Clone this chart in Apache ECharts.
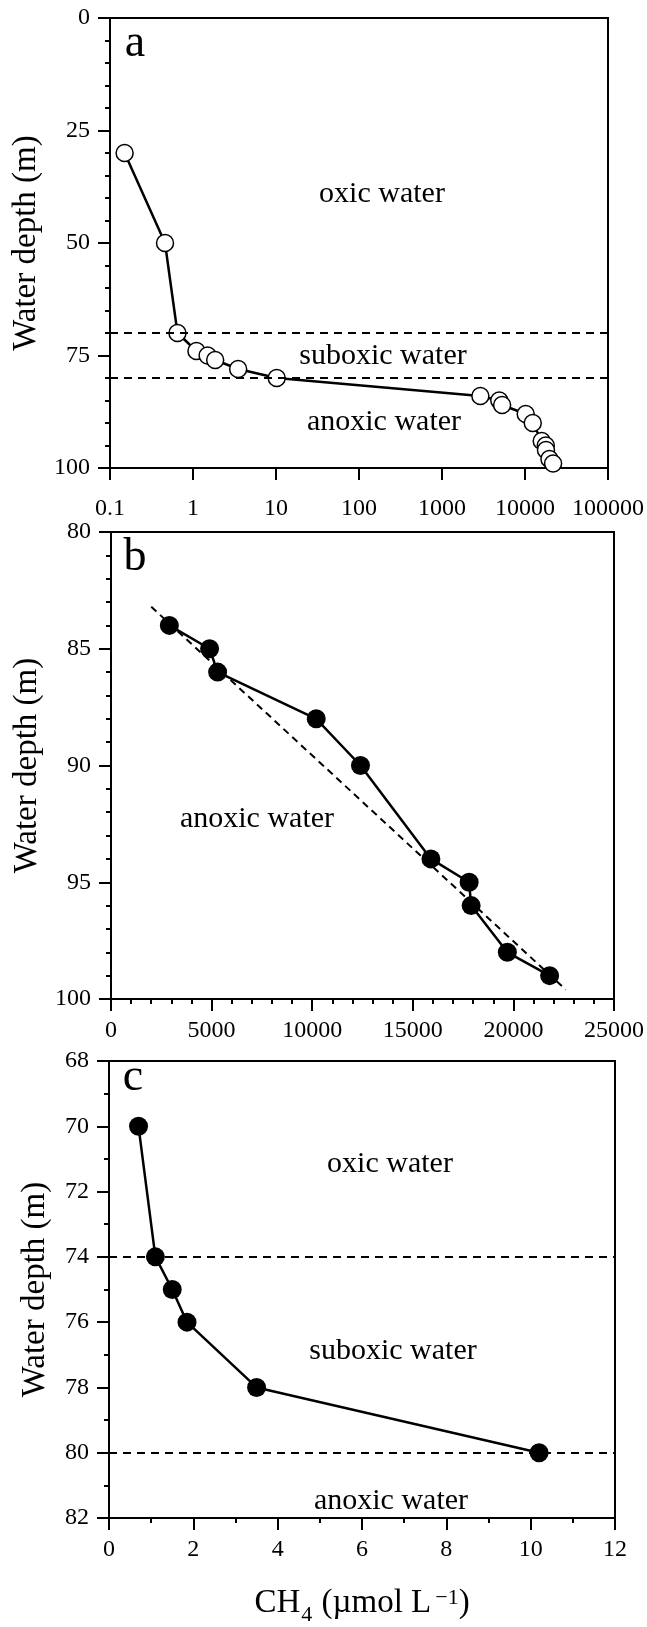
<!DOCTYPE html>
<html>
<head>
<meta charset="utf-8">
<script src="https://cdn.jsdelivr.net/npm/echarts@6/dist/echarts.min.js"></script>
<style>
  html, body { margin: 0; padding: 0; background: #fff; }
  #chart { width: 647px; height: 1627px; }
</style>
</head>
<body>
<div id="chart"></div>
<script>
// ---------- data ----------
// Panel a (log CH4 axis, open circles)
const depthA = [30, 50, 70, 74, 75, 76, 78, 80, 84, 85, 86, 88, 90, 94, 95, 96, 98, 99];
const ch4A   = [0.15, 0.46, 0.65, 1.1, 1.5, 1.85, 3.5, 10.2, 2900, 4900, 5300, 10200, 12400, 15900, 17800, 17900, 19700, 21800];
const boundariesA = [70, 80];
const xTicksA = [0.1, 1, 10, 100, 1000, 10000, 100000];
const yTicksA = [0, 25, 50, 75, 100];

// Panel b (anoxic zone, filled circles + linear fit)
const depthB = [84, 85, 86, 88, 90, 94, 95, 96, 98, 99];
const ch4B   = [2900, 4900, 5300, 10200, 12400, 15900, 17800, 17900, 19700, 21800];
const fitCh4B   = [2000, 22600];
const fitDepthB = [83.2, 99.6];
const xTicksB = [0, 5000, 10000, 15000, 20000, 25000];
const yTicksB = [80, 85, 90, 95, 100];

// Panel c (oxic/suboxic zone, filled circles)
const depthC = [70, 74, 75, 76, 78, 80];
const ch4C   = [0.7, 1.1, 1.5, 1.85, 3.5, 10.2];
const boundariesC = [74, 80];
const xTicksC = [0, 2, 4, 6, 8, 10, 12];
const yTicksC = [68, 70, 72, 74, 76, 78, 80, 82];

const labelsA = ['oxic water', 'suboxic water', 'anoxic water'];
const labelsB = ['anoxic water'];
const labelsC = ['oxic water', 'suboxic water', 'anoxic water'];
const panelLetters = ['a', 'b', 'c'];
const yTitle = 'Water depth (m)';

// ---------- styling ----------
const FF = "'Liberation Serif', 'Times New Roman', serif";
const BLACK = '#000';
const TICK_FS = 24;

function pairs(xs, ys) { return xs.map((x, i) => [x, ys[i]]); }
const fmt = v => String(Number(Number(v).toPrecision(8)));

function baseAxis(extra) {
  return Object.assign({
    axisLine: { show: true, onZero: false, lineStyle: { color: BLACK, width: 2 } },
    axisTick: { show: true, inside: false, length: 12, lineStyle: { color: BLACK, width: 2 } },
    splitLine: { show: false },
    minorSplitLine: { show: false },
    axisLabel: { color: BLACK, fontSize: TICK_FS, fontFamily: FF, margin: 20, formatter: fmt }
  }, extra);
}

const grids = [
  { left: 110, top: 18, width: 503, height: 450 },
  { left: 111, top: 532, width: 505, height: 467 },
  { left: 109, top: 1061, width: 506, height: 472 }
];
grids.forEach(g => { g.show = true; g.borderColor = BLACK; g.borderWidth = 2; g.backgroundColor = 'transparent'; g.containLabel = false; });

const minor = n => ({ show: true, splitNumber: n, length: 5, lineStyle: { color: BLACK, width: 2 } });

const xAxes = [
  baseAxis({ type: 'log', logBase: 10, gridIndex: 0, min: xTicksA[0], max: xTicksA[xTicksA.length - 1],
    axisTick: { show: true, length: 12, lineStyle: { color: BLACK, width: 2 }, customValues: xTicksA },
    axisLabel: { color: BLACK, fontSize: TICK_FS, fontFamily: FF, margin: 29, customValues: xTicksA, formatter: fmt } }),
  baseAxis({ type: 'value', gridIndex: 1, min: xTicksB[0], max: xTicksB[xTicksB.length - 1],
    interval: xTicksB[1] - xTicksB[0], minorTick: minor(5) }),
  baseAxis({ type: 'value', gridIndex: 2, min: xTicksC[0], max: xTicksC[xTicksC.length - 1],
    interval: xTicksC[1] - xTicksC[0], minorTick: minor(2),
    name: '{n|CH}{s|4}{n| (µmol L}{p|−1}{n|)}',
    nameLocation: 'middle', nameGap: 69,
    nameTextStyle: {
      color: BLACK, fontFamily: FF,
      rich: {
        n: { fontSize: 33, fontFamily: FF, color: BLACK, lineHeight: 37, verticalAlign: 'top' },
        s: { fontSize: 22, fontFamily: FF, color: BLACK, lineHeight: 22, padding: [17, 1, 0, 1], verticalAlign: 'top' },
        p: { fontSize: 22, fontFamily: FF, color: BLACK, lineHeight: 22, padding: [0, 0, 0, 4], verticalAlign: 'top' }
      }
    } })
];

function yAx(idx, ticks, split) {
  return baseAxis({ type: 'value', gridIndex: idx, inverse: true,
    min: ticks[0], max: ticks[ticks.length - 1], interval: ticks[1] - ticks[0],
    minorTick: minor(split),
    name: yTitle, nameLocation: 'middle', nameRotate: 90, nameGap: 57,
    nameTextStyle: { color: BLACK, fontSize: 33, fontFamily: FF } });
}
const yAxes = [yAx(0, yTicksA, 5), yAx(1, yTicksB, 5), yAx(2, yTicksC, 2)];

function boundaryLine(vals) {
  return {
    silent: true, symbol: 'none', label: { show: false },
    lineStyle: { color: BLACK, width: 2, type: [8, 6] },
    data: vals.map(v => ({ yAxis: v }))
  };
}

const series = [
  { type: 'line', xAxisIndex: 0, yAxisIndex: 0, data: pairs(ch4A, depthA),
    symbol: 'circle', symbolSize: 17, lineStyle: { color: BLACK, width: 2.5 },
    itemStyle: { color: '#fff', borderColor: BLACK, borderWidth: 1.5 },
    markLine: boundaryLine(boundariesA), z: 3 },
  { type: 'line', xAxisIndex: 1, yAxisIndex: 1, data: pairs(fitCh4B, fitDepthB),
    symbol: 'none', lineStyle: { color: BLACK, width: 2, type: [7, 5] }, z: 2 },
  { type: 'line', xAxisIndex: 1, yAxisIndex: 1, data: pairs(ch4B, depthB),
    symbol: 'circle', symbolSize: 19, lineStyle: { color: BLACK, width: 2.5 },
    itemStyle: { color: BLACK, borderColor: BLACK, borderWidth: 0 }, z: 3 },
  { type: 'line', xAxisIndex: 2, yAxisIndex: 2, data: pairs(ch4C, depthC),
    symbol: 'circle', symbolSize: 19, lineStyle: { color: BLACK, width: 2.5 },
    itemStyle: { color: BLACK, borderColor: BLACK, borderWidth: 0 },
    markLine: boundaryLine(boundariesC), z: 3 }
];

function txt(s, x, y, size, align) {
  return { type: 'text', x: x, y: y, silent: true,
    style: { text: s, fill: BLACK, font: size + 'px ' + FF, align: align || 'center', verticalAlign: 'middle' } };
}

const graphic = [
  txt(panelLetters[0], 135, 44, 46),
  txt(panelLetters[1], 135, 558, 46),
  txt(panelLetters[2], 133, 1078, 46),
  txt(labelsA[0], 382, 194, 30),
  txt(labelsA[1], 383, 356, 30),
  txt(labelsA[2], 384, 422, 30),
  txt(labelsB[0], 257, 819, 30),
  txt(labelsC[0], 390, 1164, 30),
  txt(labelsC[1], 393, 1351, 30),
  txt(labelsC[2], 391, 1501, 30)
];

const chart = echarts.init(document.getElementById('chart'), null, { renderer: 'canvas' });
chart.setOption({
  animation: false,
  backgroundColor: '#fff',
  textStyle: { fontFamily: FF, color: BLACK },
  grid: grids,
  xAxis: xAxes,
  yAxis: yAxes,
  series: series,
  graphic: graphic
});
</script>
</body>
</html>
